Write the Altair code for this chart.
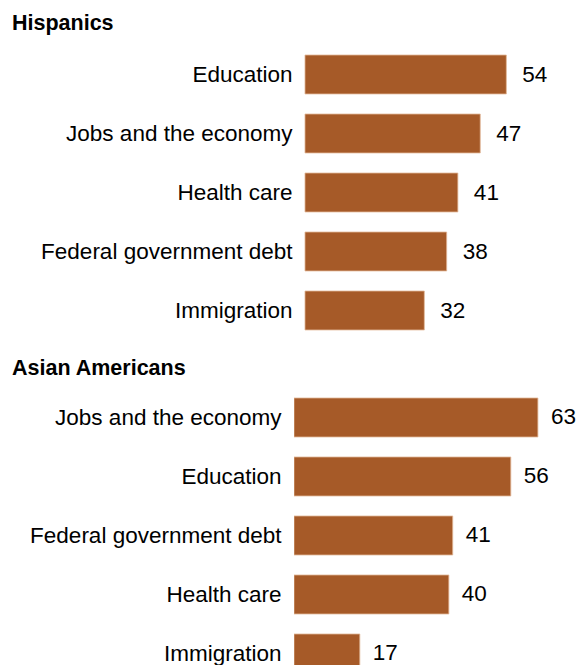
import altair as alt
import pandas as pd

hisp_topics = ["Education", "Jobs and the economy", "Health care", "Federal government debt", "Immigration"]
hisp_values = [54, 47, 41, 38, 32]
asian_topics = ["Jobs and the economy", "Education", "Federal government debt", "Health care", "Immigration"]
asian_values = [63, 56, 41, 40, 17]

FONT = "Liberation Sans"
BAR = "#A65A28"
EDGE = "#E2B898"
LABEL_SIZE = 22.5
VALUE_SIZE = 22.5


def topic_axis(topics, padding, quantitative=False):
    kw = dict(
        title=None, domain=False, ticks=False, grid=False, labelFontSize=LABEL_SIZE,
        labelFont=FONT, labelColor="#000", labelPadding=padding,
        minExtent=282, maxExtent=282, labelLimit=400,
    )
    if quantitative:
        names = "[" + ",".join("'" + t + "'" for t in topics) + "]"
        kw.update(values=list(range(len(topics))), labelExpr=names + "[datum.value]",
                  labelOverlap=False, labelFlush=False)
    return alt.Axis(**kw)


def title(text, offset):
    return alt.TitleParams(text, anchor="start", frame="bounds", fontSize=21.5,
                           font=FONT, fontWeight="bold", color="#000", offset=offset)


# Hispanics panel (band scale)
hdf = pd.DataFrame({"topic": hisp_topics, "value": hisp_values})
hbase = alt.Chart(hdf).encode(
    y=alt.Y("topic:N", sort=hisp_topics,
            scale=alt.Scale(paddingInner=0.34, paddingOuter=0.17),
            axis=topic_axis(hisp_topics, 2)),
    x=alt.X("value:Q", axis=None, scale=alt.Scale(domain=[-2.95, 70], nice=False, zero=False)),
)
h = alt.layer(
    hbase.mark_bar(color=BAR, stroke=EDGE, strokeWidth=0.8),
    hbase.mark_text(align="left", baseline="middle", dx=16, fontSize=VALUE_SIZE,
                    font=FONT, color="#000").encode(text="value:Q"),
).properties(width=272, height=295, title=title("Hispanics", 11))

# Asian Americans panel (index scale, bottom bar cut by the frame)
adf = pd.DataFrame({"topic": asian_topics, "value": asian_values,
                    "idx": list(range(len(asian_topics)))})
abase = alt.Chart(adf).encode(
    y=alt.Y("idx:Q", scale=alt.Scale(domain=[-0.5, 4.195], reverse=True, nice=False,
                                     zero=False, padding=0),
            axis=topic_axis(asian_topics, 13, quantitative=True)),
    x=alt.X("value:Q", axis=None, scale=alt.Scale(domain=[0, 70], nice=False, padding=0)),
)
a = alt.layer(
    abase.mark_bar(color=BAR, stroke=EDGE, strokeWidth=0.8, orient="horizontal",
                   size=39, clip=True),
    abase.mark_text(align="left", baseline="middle", dx=13, fontSize=VALUE_SIZE,
                    font=FONT, color="#000").encode(text="value:Q"),
).properties(width=271, height=277, title=title("Asian Americans", 9))

chart = alt.vconcat(h, a, spacing=17).properties(
    padding={"left": 4, "top": 4, "right": 0, "bottom": 0}, background="white"
).configure_view(stroke=None)

chart.save("out.html", embed_options={"renderer": "svg", "actions": False})
